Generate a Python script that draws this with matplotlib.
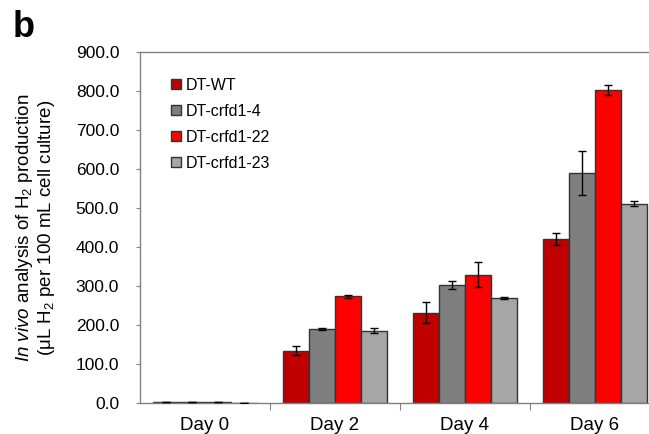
import numpy as np
import matplotlib
matplotlib.use("Agg")
import matplotlib.pyplot as plt
from matplotlib.lines import Line2D

plt.rcParams['font.family'] = ['Liberation Sans', 'DejaVu Sans']
plt.rcParams['mathtext.fontset'] = 'custom'
plt.rcParams['mathtext.rm'] = 'Liberation Sans'
plt.rcParams['mathtext.it'] = 'Liberation Sans:italic'

# --- data ---
days = ['Day 0', 'Day 2', 'Day 4', 'Day 6']
strains = ['DT-WT', 'DT-crfd1-4', 'DT-crfd1-22', 'DT-crfd1-23']
wt = [1.5, 134, 231, 421]
crfd1_4 = [1.5, 190, 303, 590]
crfd1_22 = [1.5, 274, 329, 803]
crfd1_23 = [0.5, 185, 269, 511]
wt_err = [0, 12, 27, 16]
crfd1_4_err = [0, 3, 10, 57]
crfd1_22_err = [0, 4, 32, 13]
crfd1_23_err = [0, 6, 2, 7]

colors = ['#C00000', '#7F7F7F', '#FF0000', '#A6A6A6']
series = [wt, crfd1_4, crfd1_22, crfd1_23]
errors = [wt_err, crfd1_4_err, crfd1_22_err, crfd1_23_err]

fig = plt.figure(figsize=(6.49, 4.34), dpi=100)
# plot area runs past the right edge of the figure, as in the original
ax = fig.add_axes([0.2157, 0.0714, 0.801, 0.809])

x = np.arange(len(days))
width = 0.2
offsets = [-0.3, -0.1, 0.1, 0.3]
for vals, errs, col, off in zip(series, errors, colors, offsets):
    ax.bar(x + off, vals, width, color=col, edgecolor='#333333', linewidth=1.0, zorder=2)
    ax.errorbar(x + off, vals, yerr=errs, fmt='none', ecolor='black',
                elinewidth=1.0, capsize=3, capthick=1.0, zorder=3)

ax.set_xlim(-0.5, 3.5)
ax.set_ylim(0, 900)
ax.set_yticks(np.arange(0, 901, 100))
ax.set_yticklabels([f'{v:.1f}' for v in np.arange(0, 901, 100)], fontsize=12.5)
ax.set_xticks([0.5, 1.5, 2.5])
ax.set_xticklabels([])
ax.set_xticks(x, minor=True)
ax.set_xticklabels(days, minor=True, fontsize=13.5)
ax.tick_params(axis='x', which='minor', length=0, pad=10)
ax.tick_params(axis='x', which='major', length=5, color='#808080')
ax.tick_params(axis='y', length=3, color='#808080', pad=12)

for s in ['left', 'top', 'bottom']:
    ax.spines[s].set_color('#808080')
    ax.spines[s].set_linewidth(1.0)
ax.spines['right'].set_visible(False)

ax.set_ylabel('$\\mathit{In\\ vivo}$ analysis of H$_2$ production\n'
              '(μL H$_2$ per 100 mL cell culture)', fontsize=13.5, linespacing=1.05)
ax.yaxis.set_label_coords(-0.16, 0.5)

handles = [Line2D([], [], marker='s', linestyle='none', markersize=7,
                  markerfacecolor=c, markeredgecolor='#333333') for c in colors]
ax.legend(handles, strains, loc='upper left', bbox_to_anchor=(0.033, 0.968),
          frameon=False, fontsize=11.5, handlelength=0.6, handletextpad=0.3,
          labelspacing=0.7)

fig.text(0.02, 0.915, 'b', fontsize=26, fontweight='bold')

fig.savefig('out.png', dpi=100)
